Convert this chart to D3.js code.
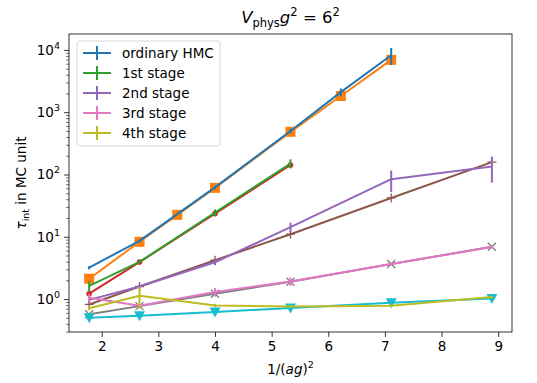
<!DOCTYPE html>
<html>
<head>
<meta charset="utf-8">
<script src="https://cdn.jsdelivr.net/npm/d3@7"></script>
<style>
  html, body { margin: 0; padding: 0; background: #fff; }
  svg { display: block; font-family: "DejaVu Sans", sans-serif; }
</style>
</head>
<body>
<svg id="chart" width="537" height="383"></svg>
<script>
// x positions: 1/(ag)^2 for the lattice spacings used
const xStd = [1.778, 2.667, 4.0, 5.333, 7.111, 8.889];
const xHmc = [1.778, 2.667, 4.0, 5.333, 6.222, 7.111];
const xFit = [1.778, 2.667, 3.333, 4.0, 5.333, 6.222, 7.111];
const xShort = [1.778, 2.667, 4.0, 5.333];

// integrated autocorrelation times with errors
const hmcTau = [3.2, 8.6, 62, 500, 2100, 8200];
const hmcErr = [0.2, 0.5, 4, 40, 300, 2500];
const stage1Tau = [1.63, 3.95, 24.5, 150];
const stage1Err = [0.3, 0.2, 3, 25];
const stage2Tau = [0.97, 1.59, 3.9, 14.3, 84, 134];
const stage2Err = [0.1, 0.1, 0.4, 2.5, 32, 60];
const stage3Tau = [1.05, 0.78, 1.3, 1.92, 3.65, 6.85];
const stage3Err = [0.15, 0.05, 0.2, 0.3, 0.2, 0.4];
const stage4Tau = [0.71, 1.13, 0.79, 0.76, 0.78, 1.08];
const stage4Err = [0.05, 0.43, 0.05, 0.03, 0.03, 0.05];

// comparison estimates (unlabelled marker series)
const hmcRef = [2.12, 8.3, 22.5, 61, 484, 1820, 6920];
const stage1Ref = [1.22, 3.93, 23.5, 142];
const stage2Ref = [0.82, 1.59, 4.2, 11, 42, 158];
const stage3Ref = [0.57, 0.77, 1.22, 1.9, 3.65, 6.9];
const stage4Ref = [0.50, 0.54, 0.62, 0.72, 0.87, 1.02];

const xTicks = [2, 3, 4, 5, 6, 7, 8, 9];
const yDecades = [0, 1, 2, 3, 4];
const legendLabels = ["ordinary HMC", "1st stage", "2nd stage", "3rd stage", "4th stage"];

const C = {
  blue: "#1f77b4", orange: "#ff7f0e", green: "#2ca02c", red: "#d62728",
  purple: "#9467bd", brown: "#8c564b", pink: "#e377c2", gray: "#7f7f7f",
  olive: "#bcbd22", cyan: "#17becf"
};

const L = 69, R = 512, T = 34, B = 332;
const svg = d3.select("#chart");
const x = d3.scaleLinear().domain([1.422, 9.244]).range([L, R]);
const y = d3.scaleLog().domain([0.296, 18000]).range([B, T]);

const plot = svg.append("g");
const clip = svg.append("clipPath").attr("id", "clip")
  .append("rect").attr("x", L).attr("y", T).attr("width", R - L).attr("height", B - T);
plot.attr("clip-path", "url(#clip)");

const line = d3.line().x(d => x(d[0])).y(d => y(d[1]));
const zip = (xs, ys) => xs.map((v, i) => [v, ys[i]]);

function markerSeries(xs, ys, color, shape) {
  const pts = zip(xs, ys);
  plot.append("path").attr("d", line(pts)).attr("fill", "none")
    .attr("stroke", color).attr("stroke-width", 2).attr("stroke-linejoin", "round");
  const g = plot.append("g");
  pts.forEach(p => {
    const cx = x(p[0]), cy = y(p[1]);
    if (shape === "square") {
      g.append("rect").attr("x", cx - 5).attr("y", cy - 5).attr("width", 10).attr("height", 10).attr("fill", color);
    } else if (shape === "circle") {
      g.append("circle").attr("cx", cx).attr("cy", cy).attr("r", 2.8).attr("fill", color);
    } else if (shape === "plus") {
      g.append("path").attr("d", `M${cx - 4.5},${cy}H${cx + 4.5}M${cx},${cy - 4.5}V${cy + 4.5}`)
        .attr("stroke", color).attr("stroke-width", 1.3);
    } else if (shape === "cross") {
      g.append("path").attr("d", `M${cx - 4},${cy - 4}L${cx + 4},${cy + 4}M${cx - 4},${cy + 4}L${cx + 4},${cy - 4}`)
        .attr("stroke", color).attr("stroke-width", 1.3);
    } else if (shape === "tri") {
      g.append("path").attr("d", `M${cx - 5.5},${cy - 4.5}L${cx + 5.5},${cy - 4.5}L${cx},${cy + 5.5}Z`).attr("fill", color);
    }
  });
}

function errorSeries(xs, ys, es, color) {
  const pts = zip(xs, ys);
  plot.append("path").attr("d", line(pts)).attr("fill", "none")
    .attr("stroke", color).attr("stroke-width", 2).attr("stroke-linejoin", "round");
  plot.append("g").selectAll("line").data(pts).join("line")
    .attr("x1", d => x(d[0])).attr("x2", d => x(d[0]))
    .attr("y1", (d, i) => y(d[1] + es[i]))
    .attr("y2", (d, i) => y(Math.max(d[1] - es[i], 1e-3)))
    .attr("stroke", color).attr("stroke-width", 2);
}

markerSeries(xFit, hmcRef, C.orange, "square");
markerSeries(xShort, stage1Ref, C.red, "circle");
markerSeries(xStd, stage2Ref, C.brown, "plus");
markerSeries(xStd, stage3Ref, C.gray, "cross");
markerSeries(xStd, stage4Ref, C.cyan, "tri");

errorSeries(xHmc, hmcTau, hmcErr, C.blue);
errorSeries(xShort, stage1Tau, stage1Err, C.green);
errorSeries(xStd, stage2Tau, stage2Err, C.purple);
errorSeries(xStd, stage3Tau, stage3Err, C.pink);
errorSeries(xStd, stage4Tau, stage4Err, C.olive);

// axes
const xAxis = d3.axisBottom(x).tickValues(xTicks).tickSize(4.9).tickPadding(4.5).tickFormat(d3.format("d"));
const gx = svg.append("g").attr("transform", `translate(0,${B})`).call(xAxis);
gx.select(".domain").remove();
gx.selectAll("line").attr("stroke", "#000").attr("stroke-width", 0.8);
gx.selectAll("text").attr("font-size", 13.5).attr("fill", "#000").attr("font-family", "DejaVu Sans");

const minorVals = [];
for (let e = -1; e <= 4; e++) for (let m = 2; m <= 9; m++) {
  const v = m * Math.pow(10, e);
  if (v >= 0.296 && v <= 18000) minorVals.push(v);
}
const gy = svg.append("g").attr("transform", `translate(${L},0)`);
gy.call(d3.axisLeft(y).tickValues(minorVals).tickSize(2.8).tickFormat(""));
gy.call(g => g.select(".domain").remove());
gy.selectAll("line").attr("stroke", "#000").attr("stroke-width", 0.6);
const gyMaj = svg.append("g").attr("transform", `translate(${L},0)`);
gyMaj.call(d3.axisLeft(y).tickValues(yDecades.map(e => Math.pow(10, e))).tickSize(4.9).tickFormat(""));
gyMaj.select(".domain").remove();
gyMaj.selectAll("line").attr("stroke", "#000").attr("stroke-width", 0.8);
yDecades.forEach(e => {
  const t = svg.append("text").attr("x", 60).attr("y", y(Math.pow(10, e)) + 5)
    .attr("text-anchor", "end").attr("font-size", 13.5).attr("fill", "#000");
  t.append("tspan").text("10");
  t.append("tspan").attr("dy", -6).attr("font-size", 9.5).text(e);
});

svg.append("rect").attr("x", L).attr("y", T).attr("width", R - L).attr("height", B - T)
  .attr("fill", "none").attr("stroke", "#000").attr("stroke-width", 0.8);

// title
const title = svg.append("text").attr("x", (L + R) / 2).attr("y", 23)
  .attr("text-anchor", "middle").attr("font-size", 16.5).attr("fill", "#000");
title.append("tspan").attr("font-style", "italic").text("V");
title.append("tspan").attr("dy", 3.5).attr("font-size", 11.5).text("phys");
title.append("tspan").attr("dy", -3.5).attr("font-style", "italic").text("g");
title.append("tspan").attr("dy", -7).attr("font-size", 11.5).text("2");
title.append("tspan").attr("dy", 7).text(" = 6");
title.append("tspan").attr("dy", -7).attr("font-size", 11.5).text("2");

// axis labels
const xl = svg.append("text").attr("x", (L + R) / 2).attr("y", 374)
  .attr("text-anchor", "middle").attr("font-size", 13.5).attr("fill", "#000");
xl.append("tspan").text("1/(");
xl.append("tspan").attr("font-style", "italic").text("ag");
xl.append("tspan").text(")");
xl.append("tspan").attr("dy", -6).attr("font-size", 9.5).text("2");

const yl = svg.append("text").attr("transform", `translate(26,${(T + B) / 2}) rotate(-90)`)
  .attr("text-anchor", "middle").attr("font-size", 13.5).attr("fill", "#000");
yl.append("tspan").attr("font-style", "italic").text("τ");
yl.append("tspan").attr("dy", 3).attr("font-size", 9.5).text("int");
yl.append("tspan").attr("dy", -3).text(" in MC unit");

// legend
const legColors = [C.blue, C.green, C.purple, C.pink, C.olive];
const leg = svg.append("g");
leg.append("rect").attr("x", 77).attr("y", 41).attr("width", 143).attr("height", 105)
  .attr("rx", 3).attr("fill", "#fff").attr("fill-opacity", 0.8)
  .attr("stroke", "#cccccc").attr("stroke-width", 0.8);
legendLabels.forEach((lab, i) => {
  const cy = 53 + i * 20;
  leg.append("line").attr("x1", 83).attr("x2", 111).attr("y1", cy).attr("y2", cy)
    .attr("stroke", legColors[i]).attr("stroke-width", 2);
  leg.append("line").attr("x1", 97).attr("x2", 97).attr("y1", cy - 7).attr("y2", cy + 7)
    .attr("stroke", legColors[i]).attr("stroke-width", 2);
  leg.append("text").attr("x", 122).attr("y", cy + 5).attr("font-size", 13.5).attr("fill", "#000").text(lab);
});
</script>
</body>
</html>
